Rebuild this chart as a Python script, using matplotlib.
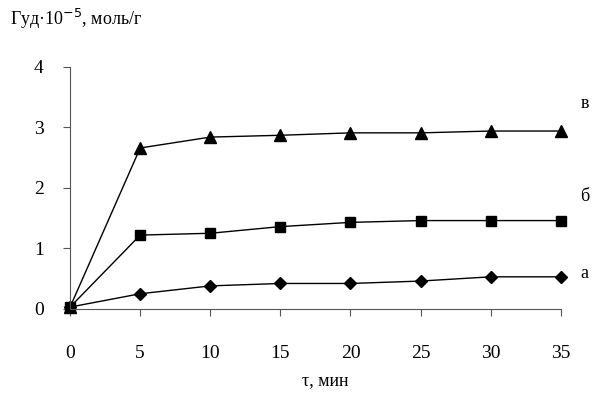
import matplotlib.pyplot as plt

plt.rcParams['font.family'] = ['Liberation Serif', 'DejaVu Serif']

t = [0, 5, 10, 15, 20, 25, 30, 35]
curve_a = [0.03, 0.25, 0.38, 0.42, 0.42, 0.46, 0.53, 0.53]
curve_b = [0.03, 1.22, 1.25, 1.36, 1.43, 1.46, 1.46, 1.46]
curve_v = [0.03, 2.66, 2.84, 2.87, 2.91, 2.91, 2.94, 2.94]
labels = ['а', 'б', 'в']

fig = plt.figure(figsize=(5.94, 3.96), dpi=100)
ax = fig.add_axes([0.118, 0.22, 0.826, 0.611])

ax.plot(t, curve_a, color='black', lw=1.0, marker='D', ms=6, clip_on=False)
ax.plot(t, curve_b, color='black', lw=1.0, marker='s', ms=7, clip_on=False)
ax.plot(t, curve_v, color='black', lw=1.0, marker='^', ms=8, clip_on=False)

ax.set_xlim(0, 35)
ax.set_ylim(0, 4)
ax.set_xticks(t)
ax.set_yticks([0, 1, 2, 3, 4])
ax.spines['top'].set_visible(False)
ax.spines['right'].set_visible(False)
ax.spines['left'].set_color('#555555')
ax.spines['bottom'].set_color('#555555')
ax.tick_params(direction='out', length=5, color='#555555', labelsize=14)
ax.tick_params(axis='x', pad=21)
ax.tick_params(axis='y', pad=14)

ax.text(1.04, curve_a[-1] + 0.05, labels[0], transform=ax.get_yaxis_transform(), fontsize=13, va='center')
ax.text(1.04, curve_b[-1] + 0.4, labels[1], transform=ax.get_yaxis_transform(), fontsize=13, va='center')
ax.text(1.04, curve_v[-1] + 0.45, labels[2], transform=ax.get_yaxis_transform(), fontsize=13, va='center')

fig.text(0.017, 0.952, 'Гуд·10$^{-5}$, моль/г', fontsize=13, va='center')
fig.text(0.548, 0.038, 'τ, мин', fontsize=13, ha='center', va='center')

fig.savefig('out.png', dpi=100)
